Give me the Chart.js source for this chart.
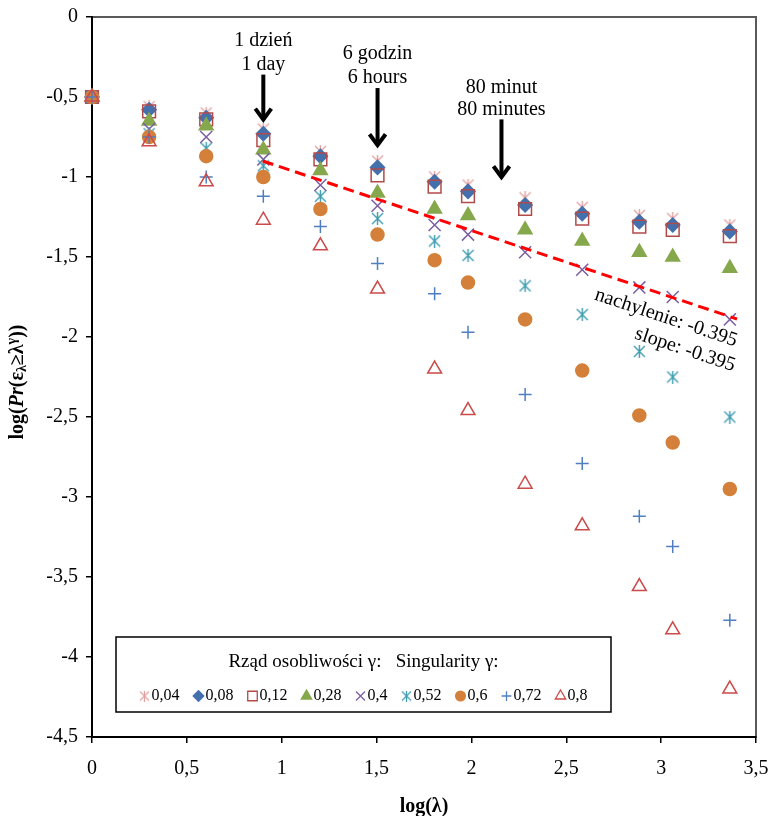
<!DOCTYPE html>
<html>
<head>
<meta charset="utf-8">
<script src="https://cdn.jsdelivr.net/npm/chart.js@4.4.0/dist/chart.umd.min.js"></script>
<style>
  html, body { margin: 0; padding: 0; background: #fff; }
  #wrap { width: 769px; height: 816px; }
</style>
</head>
<body>
<div id="wrap"><canvas id="chart" width="769" height="816"></canvas></div>
<script>
// log(lambda) for lambda = 1, 2, 4, 8, 16, 32, 64, 96, 192, 384, 768, 1152, 2304
const logLambda = [0, 0.301, 0.602, 0.903, 1.204, 1.505, 1.806, 1.982, 2.283, 2.584, 2.885, 3.061, 3.362];

const gammaLabels = ['0,04', '0,08', '0,12', '0,28', '0,4', '0,52', '0,6', '0,72', '0,8'];

const g004 = [-0.5, -0.56, -0.60, -0.70, -0.84, -0.90, -1.00, -1.05, -1.13, -1.19, -1.24, -1.26, -1.30];
const g008 = [-0.5, -0.58, -0.63, -0.73, -0.87, -0.94, -1.03, -1.09, -1.175, -1.23, -1.28, -1.30, -1.34];
const g012 = [-0.5, -0.59, -0.64, -0.77, -0.89, -0.99, -1.06, -1.12, -1.20, -1.26, -1.31, -1.33, -1.37];
const g028 = [-0.5, -0.65, -0.68, -0.83, -0.96, -1.10, -1.20, -1.24, -1.33, -1.40, -1.47, -1.50, -1.57];
const g040 = [-0.5, -0.70, -0.75, -0.89, -1.05, -1.18, -1.30, -1.36, -1.47, -1.58, -1.69, -1.75, -1.89];
const g052 = [-0.5, -0.73, -0.82, -0.93, -1.12, -1.26, -1.40, -1.49, -1.68, -1.86, -2.09, -2.25, -2.50];
const g060 = [-0.5, -0.75, -0.87, -1.00, -1.20, -1.36, -1.52, -1.66, -1.89, -2.21, -2.49, -2.66, -2.95];
const g072 = [-0.5, -0.75, -1.00, -1.12, -1.31, -1.54, -1.73, -1.97, -2.36, -2.79, -3.12, -3.31, -3.77];
const g080 = [-0.5, -0.78, -1.03, -1.27, -1.43, -1.70, -2.20, -2.46, -2.92, -3.18, -3.56, -3.83, -4.20];

const seriesValues = [g004, g008, g012, g028, g040, g052, g060, g072, g080];

// fitted power-law line for gamma = 0,4
const trendSlope = -0.395;
const trendStart = { x: 0.9, y: -0.9 };
const trendEndX = 3.4;

const xTicks = { min: 0, max: 3.5, step: 0.5 };
const yTicks = { min: -4.5, max: 0, step: 0.5 };

const SERIF = '"Liberation Serif", "Times New Roman", serif';

function makeAsterisk(color, size, lw) {
    const c = document.createElement('canvas');
    c.width = size;
    c.height = size;
    const g = c.getContext('2d');
    g.strokeStyle = color;
    g.lineWidth = lw;
    const a = 1, b = size - 1, m = size / 2;
    g.beginPath();
    g.moveTo(a, a); g.lineTo(b, b);
    g.moveTo(b, a); g.lineTo(a, b);
    g.moveTo(m, 0); g.lineTo(m, size);
    g.stroke();
    return c;
}

const markerStyles = [
    { color: '#E3A2A2', style: makeAsterisk('#E3A2A2', 13, 1.4), legend: makeAsterisk('#E3A2A2', 11, 1.2), radius: 7, fill: false },
    { color: '#4470AC', style: 'rectRot', radius: 7, fill: true },
    { color: '#B14B4A', style: 'rect', radius: 9, fill: false },
    { color: '#86A84C', style: 'triangle', radius: 8, fill: true },
    { color: '#7B5EA0', style: 'crossRot', radius: 8.5, fill: false },
    { color: '#3D9BB0', style: makeAsterisk('#3D9BB0', 13, 1.4), legend: makeAsterisk('#3D9BB0', 11, 1.2), radius: 7, fill: false },
    { color: '#D4803A', style: 'circle', radius: 6.5, fill: true },
    { color: '#4F7FC0', style: 'cross', radius: 6.5, fill: false },
    { color: '#CC4A4A', style: 'triangle', radius: 8, fill: false }
];

const callouts = [
    { lines: ['1 dzień', '1 day'], x: Math.log10(8), textY: [-0.144, -0.29], top: -0.36, tip: -0.66 },
    { lines: ['6 godzin', '6 hours'], x: Math.log10(32), textY: [-0.225, -0.375], top: -0.444, tip: -0.82 },
    { lines: ['80 minut', '80 minutes'], x: Math.log10(144), textY: [-0.4375, -0.575], top: -0.64, tip: -1.02 }
];

const slopeNotes = [
    { text: 'nachylenie: ' + trendSlope.toFixed(3), x: 3.026, y: -1.88 },
    { text: 'slope: ' + trendSlope.toFixed(3), x: 3.126, y: -2.08 }
];

function fmt(v) {
    return String(Math.round(v * 10) / 10).replace('.', ',');
}

const datasets = seriesValues.map((vals, i) => {
    const m = markerStyles[i];
    return {
        type: 'scatter',
        label: gammaLabels[i],
        data: vals.map((y, k) => ({ x: logLambda[k], y })),
        pointStyle: m.style,
        pointRadius: m.radius,
        pointHoverRadius: m.radius,
        pointBorderColor: m.color,
        pointBackgroundColor: m.fill ? m.color : 'rgba(0,0,0,0)',
        pointBorderWidth: 1.5,
        showLine: false,
        clip: false,
        order: seriesValues.length - i
    };
});

datasets.push({
    type: 'line',
    label: 'trend',
    data: [
        trendStart,
        { x: trendEndX, y: trendStart.y + trendSlope * (trendEndX - trendStart.x) }
    ],
    borderColor: '#FF0000',
    borderWidth: 3,
    borderDash: [11, 6],
    pointRadius: 0,
    fill: false,
    clip: false,
    order: -1
});

// grey plot-area frame, drawn before the black axes
const frame = {
    id: 'frame',
    beforeDraw(chart) {
        const { ctx, chartArea: a } = chart;
        ctx.save();
        ctx.strokeStyle = '#5a5a5a';
        ctx.lineWidth = 2;
        ctx.strokeRect(a.left, a.top, a.right - a.left, a.bottom - a.top);
        ctx.restore();
    }
};

function drawRich(ctx, parts, cx, cy) {
    let total = 0;
    parts.forEach(p => {
        ctx.font = p.font;
        p.w = ctx.measureText(p.t).width;
        total += p.w;
    });
    let x = cx - total / 2;
    parts.forEach(p => {
        ctx.font = p.font;
        ctx.fillText(p.t, x, cy + (p.dy || 0));
        x += p.w;
    });
}

const axisTitles = {
    id: 'axisTitles',
    afterDraw(chart) {
        const { ctx, chartArea: a } = chart;
        ctx.save();
        ctx.fillStyle = '#000';
        ctx.textAlign = 'left';
        ctx.textBaseline = 'middle';
        const b = 'bold 20px ' + SERIF;
        const bi = 'italic bold 20px ' + SERIF;
        const small = 'bold 14px ' + SERIF;
        drawRich(ctx, [
            { t: 'log(', font: b },
            { t: 'λ', font: b },
            { t: ')', font: b }
        ], (a.left + a.right) / 2, 807);

        ctx.translate(18, 382);
        ctx.rotate(-Math.PI / 2);
        drawRich(ctx, [
            { t: 'log(', font: b },
            { t: 'Pr', font: bi },
            { t: '(ε', font: b },
            { t: 'λ', font: small, dy: 4 },
            { t: '≥λ', font: b },
            { t: 'γ', font: small, dy: -6 },
            { t: '))', font: b }
        ], 0, 0);
        ctx.restore();
    }
};

const notes = {
    id: 'notes',
    afterDraw(chart) {
        const { ctx } = chart;
        const xs = chart.scales.x, ys = chart.scales.y;
        ctx.save();
        ctx.fillStyle = '#000';
        ctx.strokeStyle = '#000';
        ctx.font = '20px ' + SERIF;
        ctx.textAlign = 'center';
        ctx.textBaseline = 'middle';

        callouts.forEach(c => {
            const px = xs.getPixelForValue(c.x);
            c.lines.forEach((t, k) => ctx.fillText(t, px, ys.getPixelForValue(c.textY[k]) + 1));
            const top = ys.getPixelForValue(c.top);
            const tip = ys.getPixelForValue(c.tip);
            ctx.lineWidth = 4;
            ctx.lineJoin = 'miter';
            ctx.beginPath();
            ctx.moveTo(px, top);
            ctx.lineTo(px, tip - 3);
            ctx.stroke();
            ctx.beginPath();
            ctx.moveTo(px - 8, tip - 14);
            ctx.lineTo(px, tip - 3);
            ctx.lineTo(px + 8, tip - 14);
            ctx.stroke();
        });

        const end = trendStart.y + trendSlope * (trendEndX - trendStart.x);
        const ang = Math.atan2(
            ys.getPixelForValue(end) - ys.getPixelForValue(trendStart.y),
            xs.getPixelForValue(trendEndX) - xs.getPixelForValue(trendStart.x)
        );
        slopeNotes.forEach(n => {
            ctx.save();
            ctx.translate(xs.getPixelForValue(n.x), ys.getPixelForValue(n.y));
            ctx.rotate(ang);
            ctx.fillText(n.text, 0, 0);
            ctx.restore();
        });
        ctx.restore();
    }
};

// boxed legend inside the plot area
const boxLegend = {
    id: 'boxLegend',
    afterDatasetsDraw(chart) {
        const { ctx } = chart;
        const box = { left: 116, top: 637, right: 611, bottom: 712 };
        ctx.save();
        ctx.fillStyle = '#fff';
        ctx.fillRect(box.left, box.top, box.right - box.left, box.bottom - box.top);
        ctx.strokeStyle = '#000';
        ctx.lineWidth = 1.5;
        ctx.strokeRect(box.left, box.top, box.right - box.left, box.bottom - box.top);

        const cx = (box.left + box.right) / 2;
        ctx.fillStyle = '#000';
        ctx.textBaseline = 'middle';
        ctx.textAlign = 'center';
        ctx.font = '19px ' + SERIF;
        ctx.fillText('Rząd osobliwości γ:   Singularity γ:', cx, 662);

        ctx.font = '16px ' + SERIF;
        ctx.textAlign = 'left';
        const gapText = 7, gapItem = 19;
        const items = chart.data.datasets.filter(d => d.type === 'scatter');
        const widths = items.map(d => ctx.measureText(d.label).width);
        let total = 5;
        widths.forEach((w, i) => { total += gapText + w + (i < widths.length - 1 ? gapItem : 0); });
        let x = cx - total / 2 + 5;
        const y = 696;
        items.forEach((d, i) => {
            const m = markerStyles[i];
            if (m.legend) {
                ctx.drawImage(m.legend, x - m.legend.width / 2, y - m.legend.height / 2);
            } else if (Chart.helpers && Chart.helpers.drawPoint) {
                ctx.save();
                ctx.strokeStyle = m.color;
                ctx.fillStyle = m.fill ? m.color : 'rgba(0,0,0,0)';
                ctx.lineWidth = 1.3;
                Chart.helpers.drawPoint(ctx, { pointStyle: m.style, radius: m.radius * 0.75, rotation: 0, borderWidth: 1.3 }, x, y);
                ctx.restore();
            }
            ctx.fillStyle = '#000';
            ctx.fillText(d.label, x + gapText, y);
            x += gapText + widths[i] + gapItem;
        });
        ctx.restore();
    }
};

const tickFont = { family: SERIF, size: 20 };

new Chart(document.getElementById('chart'), {
    data: { datasets },
    options: {
        responsive: false,
        animation: false,
        devicePixelRatio: 1,
        layout: { padding: { top: 17, right: 13, bottom: 0, left: 0 } },
        plugins: {
            legend: { display: false },
            tooltip: { enabled: false }
        },
        scales: {
            x: {
                type: 'linear',
                min: xTicks.min,
                max: xTicks.max,
                ticks: {
                    stepSize: xTicks.step,
                    color: '#000',
                    font: tickFont,
                    padding: 14,
                    maxRotation: 0,
                    autoSkip: false,
                    callback: v => fmt(v)
                },
                grid: { drawOnChartArea: false, tickLength: 6, color: '#000', lineWidth: 1.5 },
                border: { color: '#000', width: 2 },
                afterFit(scale) {
                    scale.height = 79;
                    scale.paddingLeft = 0;
                    scale.paddingRight = 0;
                }
            },
            y: {
                type: 'linear',
                min: yTicks.min,
                max: yTicks.max,
                ticks: {
                    stepSize: yTicks.step,
                    color: '#000',
                    font: tickFont,
                    padding: 8,
                    autoSkip: false,
                    callback: v => fmt(v)
                },
                grid: { drawOnChartArea: false, tickLength: 6, color: '#000', lineWidth: 1.5 },
                border: { color: '#000', width: 2 },
                afterFit(scale) {
                    scale.width = 92;
                    scale.paddingTop = 0;
                    scale.paddingBottom = 0;
                }
            }
        }
    },
    plugins: [frame, boxLegend, notes, axisTitles]
});
</script>
</body>
</html>
